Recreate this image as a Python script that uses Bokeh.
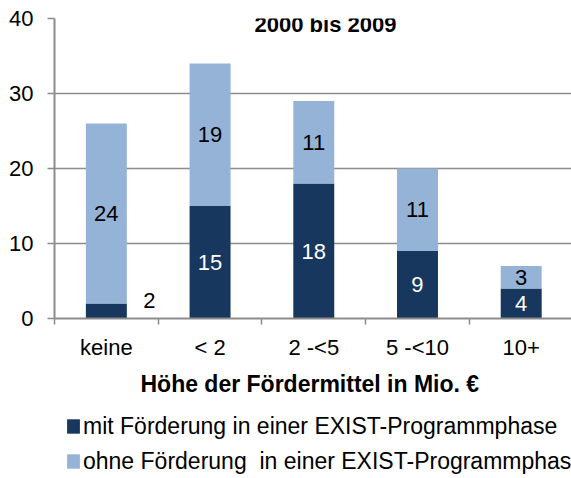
from bokeh.plotting import figure
from bokeh.layouts import column
from bokeh.models import (Range1d, FixedTicker, ColumnDataSource, Legend,
                          LegendItem, Label)
from bokeh.core.properties import value
from bokeh.embed import file_html
from bokeh.resources import INLINE

# ---------------- data ----------------
categories = ["keine", "< 2", "2 -<5", "5 -<10", "10+"]
mit_foerderung = [2, 15, 18, 9, 4]
ohne_foerderung = [24, 19, 11, 11, 3]
y_ticks = [0, 10, 20, 30, 40]
series_names = ["mit Förderung in einer EXIST-Programmphase",
                 "ohne Förderung  in einer EXIST-Programmphase"]
title_text = "2000 bis 2009"
x_axis_title = "Höhe der Fördermittel  in Mio. €"

# ---------------- style ----------------
DARK = "#17375E"
LIGHT = "#95B3D7"
GRID = "#8C8C8C"
FONT = "Liberation Sans"
FS = "22px"

xs = [i + 0.5 for i in range(len(categories))]
totals = [a + b for a, b in zip(mit_foerderung, ohne_foerderung)]

p = figure(width=571, height=400, x_range=Range1d(0, 4.985),
           y_range=Range1d(0, 40), output_backend="svg",
           toolbar_location=None, min_border_left=54, min_border_right=0,
           min_border_top=18, min_border_bottom=82)
p.outline_line_color = None
p.background_fill_color = "white"
p.border_fill_color = "white"

# grid
p.xgrid.visible = False
p.ygrid.grid_line_color = GRID
p.ygrid.grid_line_width = 1.5

# y axis
p.yaxis.ticker = FixedTicker(ticks=y_ticks, minor_ticks=[])
p.yaxis.axis_line_color = GRID
p.yaxis.axis_line_width = 2
p.yaxis.major_tick_line_color = GRID
p.yaxis.major_tick_line_width = 1.5
p.yaxis.major_tick_out = 7
p.yaxis.major_tick_in = 0
p.yaxis.minor_tick_line_color = None
p.yaxis.major_label_standoff = 14
p.yaxis.major_label_text_font = FONT
p.yaxis.major_label_text_font_size = FS
p.yaxis.major_label_text_color = "black"

# x axis
p.xaxis.ticker = FixedTicker(ticks=xs, minor_ticks=list(range(len(categories) + 1)))
p.xaxis.major_label_overrides = {x: c for x, c in zip(xs, categories)}
p.xaxis.axis_line_color = GRID
p.xaxis.axis_line_width = 2
p.xaxis.major_tick_line_color = None
p.xaxis.major_tick_out = 0
p.xaxis.major_tick_in = 0
p.xaxis.minor_tick_line_color = GRID
p.xaxis.minor_tick_line_width = 1.5
p.xaxis.minor_tick_out = 6
p.xaxis.minor_tick_in = 0
p.xaxis.major_label_standoff = 10
p.xaxis.major_label_text_font = FONT
p.xaxis.major_label_text_font_size = FS
p.xaxis.major_label_text_color = "black"
p.xaxis.axis_label = x_axis_title
p.xaxis.axis_label_text_font = FONT
p.xaxis.axis_label_text_font_size = "23px"
p.xaxis.axis_label_text_font_style = "bold"
p.xaxis.axis_label_text_color = "black"
p.xaxis.axis_label_standoff = 8

# bars
bw = 0.395
p.vbar(x=xs, bottom=0, top=mit_foerderung, width=bw,
       fill_color=DARK, line_color=None)
p.vbar(x=xs, bottom=mit_foerderung, top=totals, width=bw,
       fill_color=LIGHT, line_color=None)

# value labels
lx, ly, lt, lc, lxo, lyo = [], [], [], [], [], []
for x, m, o in zip(xs, mit_foerderung, ohne_foerderung):
    if m < 3:  # segment too small: label outside, to the right
        lx.append(x); ly.append(m); lt.append(str(m)); lc.append("black")
        lxo.append(43); lyo.append(-3.5)
    else:
        lx.append(x); ly.append(m / 2); lt.append(str(m)); lc.append("white")
        lxo.append(0); lyo.append(0)
    lx.append(x); ly.append(m + o / 2); lt.append(str(o)); lc.append("black")
    lxo.append(0); lyo.append(0)

src = ColumnDataSource(dict(x=lx, y=ly, text=lt, color=lc, xo=lxo, yo=lyo))
p.text(x="x", y="y", text="text", source=src, text_color="color",
       x_offset="xo", y_offset="yo", text_align="center",
       text_baseline="middle", text_font=value(FONT),
       text_font_size=value(FS))

# title box on top gridline
title = Label(x=2.613, y=39.2, text=title_text, text_align="center",
              text_baseline="middle", text_font=FONT, text_font_size=FS,
              text_font_style="bold", text_color="black",
              background_fill_color="white", padding=10)
p.add_layout(title)

# ---------------- legend strip below the chart ----------------
# same series drawn again, out of view, only to feed the legend glyphs
pl = figure(width=571, height=78, x_range=Range1d(0, 4.985),
            y_range=Range1d(100, 101),
            output_backend="svg", toolbar_location=None,
            min_border_left=54, min_border_right=0, min_border_top=0,
            min_border_bottom=0)
pl.axis.visible = False
pl.grid.visible = False
pl.outline_line_color = None
pl.border_fill_color = "white"
pl.background_fill_color = "white"
lr_mit = pl.vbar(x=xs, bottom=0, top=mit_foerderung, width=bw,
                 fill_color=DARK, line_color=None)
lr_ohne = pl.vbar(x=xs, bottom=mit_foerderung, top=totals, width=bw,
                  fill_color=LIGHT, line_color=None)

legend = Legend(items=[LegendItem(label=series_names[0], renderers=[lr_mit]),
                       LegendItem(label=series_names[1], renderers=[lr_ohne])],
                location=(11, 2), orientation="vertical",
                glyph_width=16, glyph_height=18, label_standoff=2,
                label_height=30, spacing=5, padding=0, margin=0,
                border_line_color=None, background_fill_alpha=0,
                label_text_font=FONT, label_text_font_size="23px",
                label_text_color="black")
pl.add_layout(legend)

layout = column(p, pl, spacing=0)
open("out.html", "w").write(file_html(layout, INLINE))
